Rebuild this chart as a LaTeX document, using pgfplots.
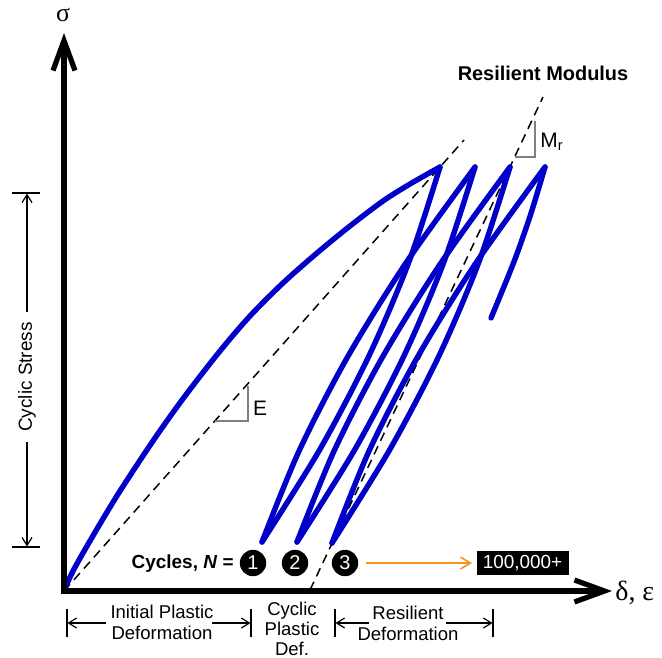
\documentclass[border=0pt]{standalone}
\usepackage{pgfplots}
\pgfplotsset{compat=1.18}
\usepackage{fontspec}
\setmainfont{Liberation Sans}
\newfontfamily\seriffont{Liberation Serif}
\usetikzlibrary{arrows.meta}
\definecolor{cblue}{RGB}{0,0,200}
\definecolor{corange}{RGB}{247,148,29}
\definecolor{cgray}{RGB}{128,128,128}
\begin{document}
\begin{tikzpicture}
\begin{axis}[name=ax, scale only axis, width=331bp, height=329bp,
  xmin=0, xmax=662, ymin=0, ymax=658, y dir=reverse, hide axis, clip=false]
% dashed modulus lines
\addplot[black, line width=0.75bp, dash pattern=on 4.5bp off 3bp] coordinates {(64,591) (464,140)};
\addplot[black, line width=0.75bp, dash pattern=on 4.5bp off 3bp] coordinates {(310,590) (543,97)};
% initial loading
\addplot[cblue, line width=2.7bp, smooth, line cap=round] coordinates {
(64,591) (73,571) (94,534) (120,491) (155,438) (185,396) (220,351) (250,316)
(283,283) (317,253) (350,226) (383,201) (410,184) (440,167)};
% cycles
\addplot[cblue, line width=2.7bp, smooth, line cap=round] coordinates {(440,167) (409,261.7) (369,355.8) (320,449.2) (262,542)};
\addplot[cblue, line width=2.7bp, smooth, line cap=round] coordinates {(262,542) (299,451.1) (346.8,358.3) (405.5,263.6) (475,167)};
\addplot[cblue, line width=2.7bp, smooth, line cap=round] coordinates {(475,167) (444,261.7) (404,355.8) (355,449.2) (297,542)};
\addplot[cblue, line width=2.7bp, smooth, line cap=round] coordinates {(297,542) (334,451.1) (381.8,358.3) (440.5,263.6) (510,167)};
\addplot[cblue, line width=2.7bp, smooth, line cap=round] coordinates {(510,167) (479,261.7) (439,355.8) (390,449.2) (332,543)};
\addplot[cblue, line width=2.7bp, smooth, line cap=round] coordinates {(332,543) (369,451.1) (416.8,358.3) (475.5,263.6) (545,167)};
\addplot[cblue, line width=2.7bp, smooth, line cap=round] coordinates {(545,167) (530.6,214.5) (514,261.7) (491,318)};
% axes
\draw[line width=2.6bp, line join=miter, {Straight Barb[length=15bp,width=11bp]}-{Straight Barb[length=15bp,width=11bp]}]
  (64,33) -- (64,591) -- (612,591);
\node[font=\seriffont\fontsize{13}{13}\selectfont] at (63,15) {σ};
\node[anchor=west, inner sep=0pt, font=\seriffont\fontsize{14}{14}\selectfont] at (615,593) {δ, ε};
% slope triangles
\draw[cgray, line width=0.65bp] (215,421) -- (248,421) -- (248,386);
\draw[cgray, line width=0.65bp] (515,157) -- (535,157) -- (535,121);
\node[font=\fontsize{10.5}{10.5}\selectfont] at (260,408) {E};
\node[anchor=west, inner sep=0pt, font=\fontsize{10.5}{10.5}\selectfont] at (540,142) {M\textsubscript{r}};
\node[font=\bfseries\fontsize{10}{10}\selectfont] at (543,73) {Resilient Modulus};
% cyclic stress dimension
\draw[line width=0.6bp] (12,193) -- (40,193);
\draw[line width=0.6bp] (12,547) -- (40,547);
\draw[line width=0.6bp, -{Straight Barb[length=4bp,width=5bp]}] (27,312) -- (27,193.5);
\draw[line width=0.6bp, -{Straight Barb[length=4bp,width=5bp]}] (27,442) -- (27,546.5);
\node[rotate=90, font=\fontsize{9.5}{10}\selectfont] at (27,377) {Cyclic Stress};
% bottom dimensions
\draw[line width=0.6bp] (67,609) -- (67,637);
\draw[line width=0.6bp] (251,609) -- (251,637);
\draw[line width=0.6bp] (335,609) -- (335,637);
\draw[line width=0.6bp] (493,609) -- (493,637);
\draw[line width=0.6bp, -{Straight Barb[length=4bp,width=5bp]}] (106,623) -- (67.5,623);
\draw[line width=0.6bp, -{Straight Barb[length=4bp,width=5bp]}] (212,623) -- (250.5,623);
\draw[line width=0.6bp, -{Straight Barb[length=4bp,width=5bp]}] (369,623) -- (335.5,623);
\draw[line width=0.6bp, -{Straight Barb[length=4bp,width=5bp]}] (446,623) -- (492.5,623);
\node[align=center, inner sep=0pt, font=\fontsize{9.3}{10.5}\selectfont] at (162,622) {Initial Plastic\\Deformation};
\node[align=center, inner sep=0pt, font=\fontsize{9.3}{10.2}\selectfont] at (292,629) {Cyclic\\Plastic\\Def.};
\node[align=center, inner sep=0pt, font=\fontsize{9.3}{10.5}\selectfont] at (408,623) {Resilient\\Deformation};
% cycles
\node[anchor=east, inner sep=0pt, font=\bfseries\fontsize{9.5}{10}\selectfont] at (234,564) {Cycles, \textit{N} =};
\fill (253,563) circle[radius=6.6bp];
\fill (295,563) circle[radius=6.6bp];
\fill (345,563) circle[radius=6.6bp];
\node[text=white, font=\fontsize{10}{10}\selectfont] at (253,563) {1};
\node[text=white, font=\fontsize{10}{10}\selectfont] at (295,563) {2};
\node[text=white, font=\fontsize{10}{10}\selectfont] at (345,563) {3};
\draw[corange, line width=0.8bp, -{Straight Barb[length=5bp,width=6bp]}] (366,563) -- (472,563);
\node[fill=black, text=white, minimum width=46bp, minimum height=12bp, inner sep=0pt, font=\fontsize{9.5}{10}\selectfont] at (522.5,563) {100,000+};
\end{axis}
\pgfresetboundingbox
\path (ax.south west) rectangle (ax.north east);
\end{tikzpicture}
\end{document}
